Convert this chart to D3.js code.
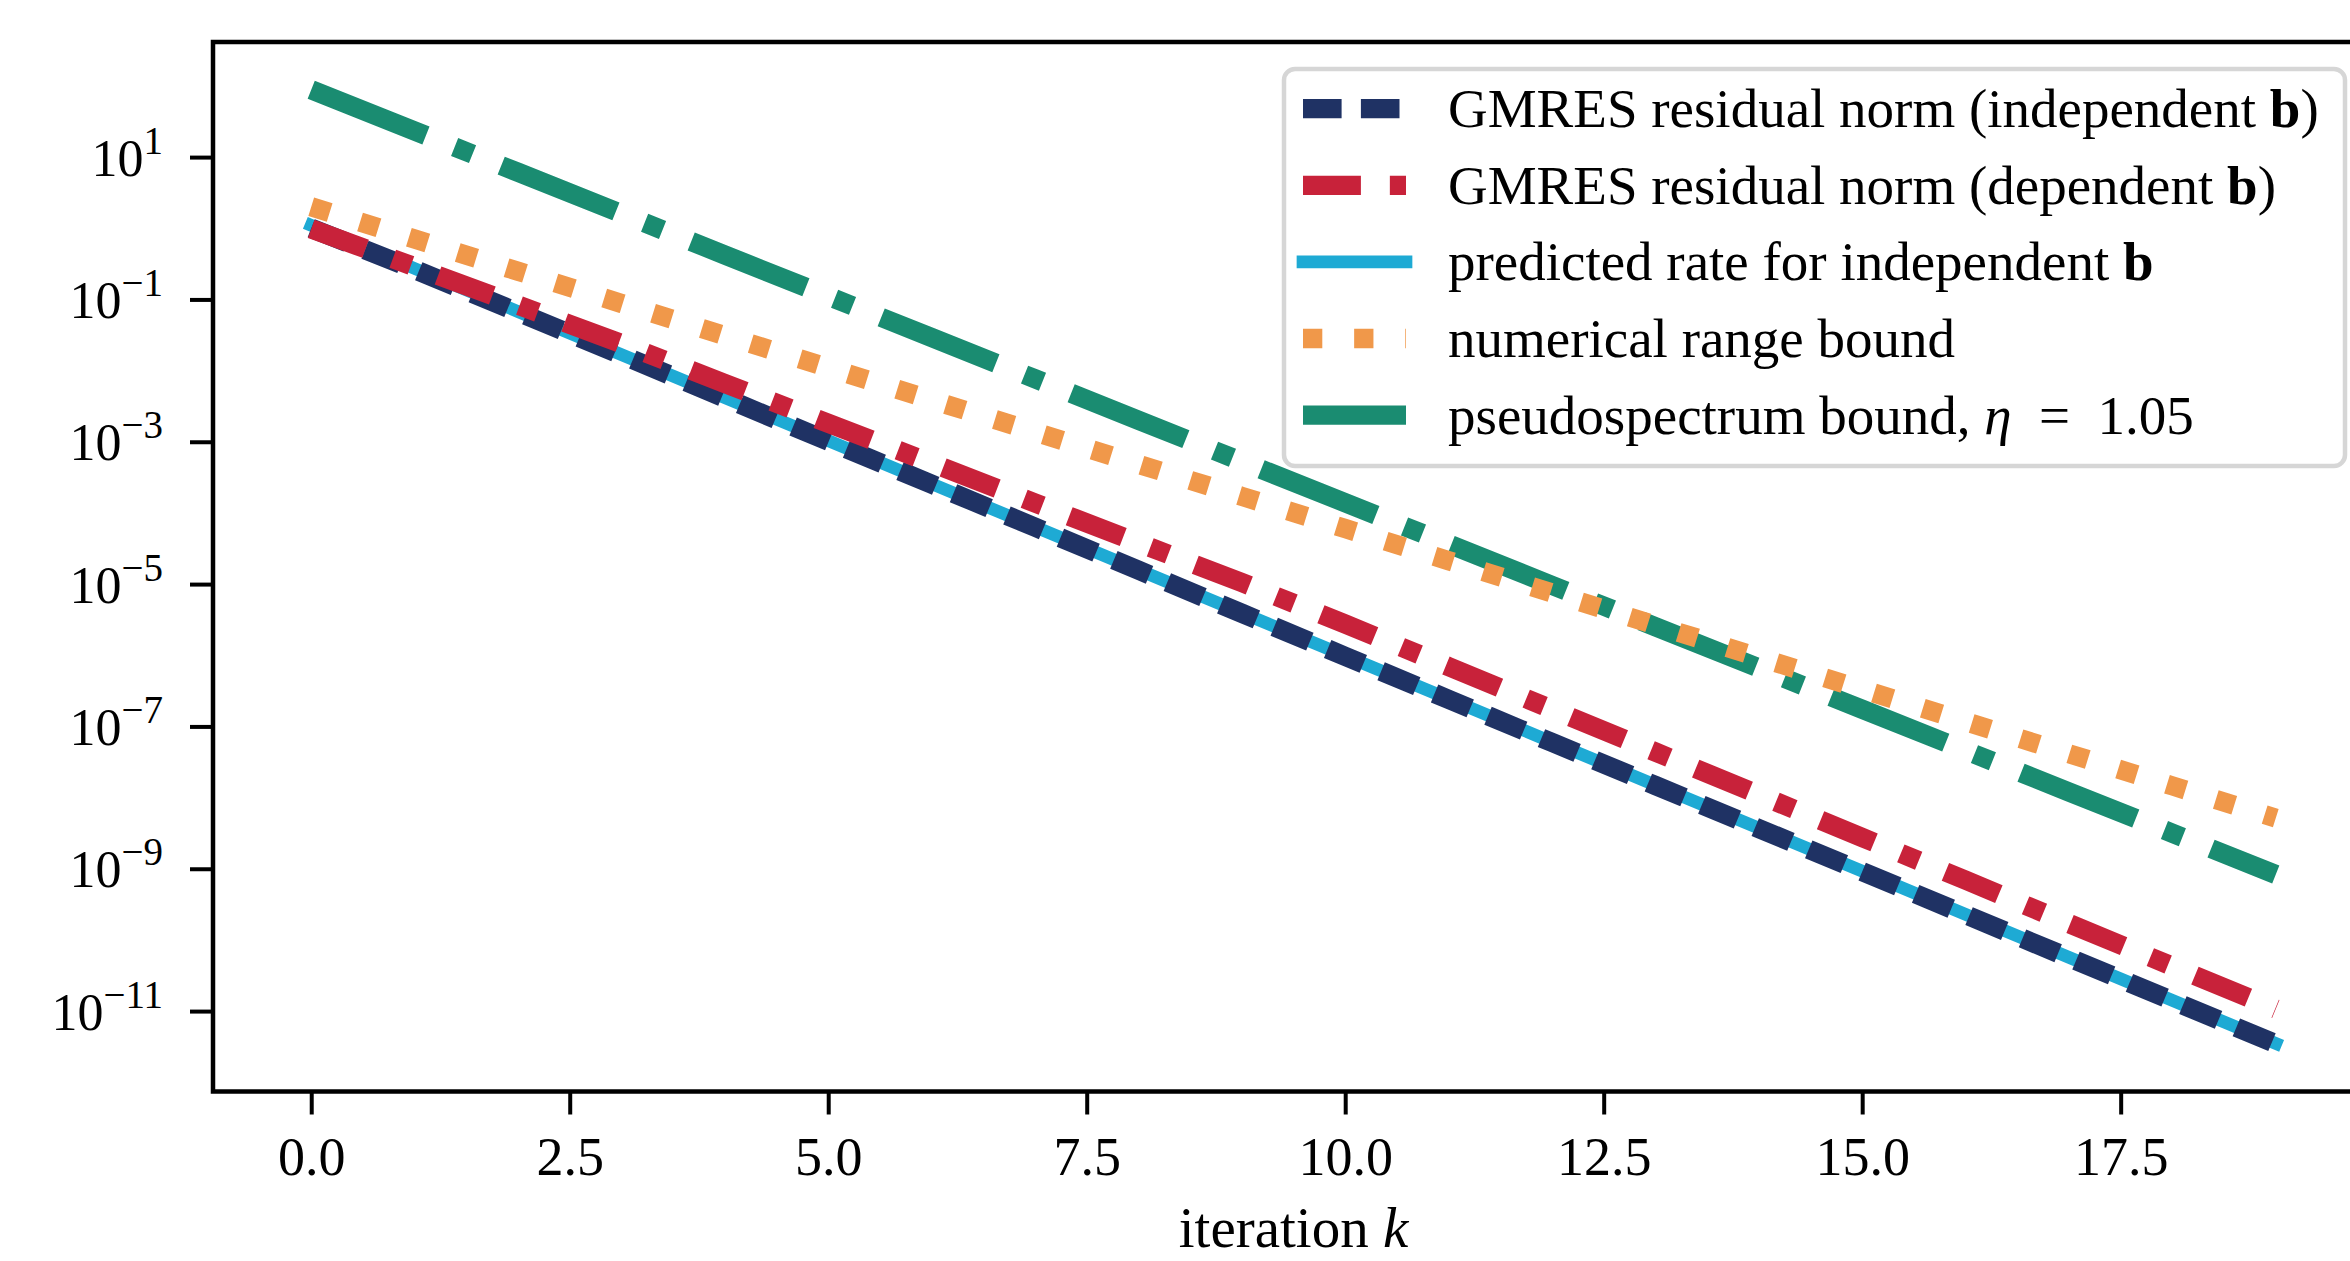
<!DOCTYPE html>
<html>
<head>
<meta charset="utf-8">
<script src="https://cdn.jsdelivr.net/npm/d3@7"></script>
<style>
  body { margin: 0; background: #fff; }
  svg { display: block; font-family: "Liberation Serif", "DejaVu Serif", serif; }
</style>
</head>
<body>
<div id="my_chart"></div>
<script>
// iteration index k
const iterations = [0, 1, 2, 3, 4, 5, 6, 7, 8, 9, 10, 11, 12, 13, 14, 15, 16, 17, 18, 19]

// values (log scale)
const gmresIndependent = [1.0, 2.63e-1, 6.61e-2, 1.66e-2, 4.12e-3, 1.02e-3, 2.54e-4, 6.31e-5, 1.57e-5, 3.89e-6,
    9.66e-7, 2.40e-7, 5.96e-8, 1.48e-8, 3.67e-9, 9.12e-10, 2.26e-10, 5.62e-11, 1.40e-11, 3.47e-12]
const gmresDependent = [0.98, 2.88e-1, 8.32e-2, 2.40e-2, 6.61e-3, 1.82e-3, 5.01e-4, 1.38e-4, 3.80e-5, 1.05e-5,
    2.75e-6, 6.92e-7, 1.74e-7, 4.37e-8, 1.10e-8, 2.75e-9, 6.92e-10, 1.70e-10, 4.27e-11, 1.07e-11]
const predictedRate = [1.10, 2.72e-1, 6.76e-2, 1.68e-2, 4.17e-3, 1.04e-3, 2.57e-4, 6.38e-5, 1.58e-5, 3.94e-6,
    9.77e-7, 2.43e-7, 6.03e-8, 1.50e-8, 3.72e-9, 9.23e-10, 2.29e-10, 5.69e-11, 1.41e-11, 3.51e-12]
const numericalRangeBound = [2.0, 7.05e-1, 2.49e-1, 8.79e-2, 3.10e-2, 1.10e-2, 3.87e-3, 1.37e-3, 4.83e-4, 1.71e-4,
    6.03e-5, 2.13e-5, 7.52e-6, 2.65e-6, 9.38e-7, 3.31e-7, 1.17e-7, 4.13e-8, 1.46e-8, 5.15e-9]
const pseudospectrumBound = [88.5, 23.3, 6.11, 1.61, 4.22e-1, 1.11e-1, 2.92e-2, 7.66e-3, 2.01e-3, 5.28e-4,
    1.39e-4, 3.66e-5, 9.59e-6, 2.52e-6, 6.62e-7, 1.74e-7, 4.58e-8, 1.20e-8, 3.16e-9, 8.32e-10]

const xTicks = [0, 2.5, 5, 7.5, 10, 12.5, 15, 17.5]
const yTicks = [1e1, 1e-1, 1e-3, 1e-5, 1e-7, 1e-9, 1e-11]

const lw = 19.3
const series = [
    {key: 'dep', values: gmresDependent, color: '#c8223a', width: lw, dash: [3, 1.5, 1, 1.5], cap: 'butt', z: 5},
    {key: 'ind', values: gmresIndependent, color: '#1f3264', width: lw, dash: [2, 1], cap: 'butt', z: 4},
    {key: 'pred', values: predictedRate, color: '#1eaad4', width: 12.7, dash: null, cap: 'square', z: 3},
    {key: 'nr', values: numericalRangeBound, color: '#f0984a', width: lw, dash: [1, 1.65], cap: 'butt', z: 2},
    {key: 'ps', values: pseudospectrumBound, color: '#1a8c71', width: lw, dash: [6.4, 1.6, 1, 1.6], cap: 'butt', z: 1}
]
const legendOrder = ['ind', 'dep', 'pred', 'nr', 'ps']

const width = 2350, height = 1261
const box = {left: 213, top: 42, right: 2374, bottom: 1091.5}
const serif = '"Liberation Serif", "DejaVu Serif", serif'

const svg = d3.select('#my_chart')
    .append('svg')
    .attr('width', width)
    .attr('height', height)

// x scale with matplotlib-like 5% margins
const xSpan = d3.max(iterations) - d3.min(iterations)
const x = d3.scaleLinear()
    .domain([d3.min(iterations) - 0.05 * xSpan, d3.max(iterations) + 0.05 * xSpan])
    .range([box.left, box.right])

const allVals = series.flatMap(s => s.values)
const lo = Math.log10(d3.min(allVals)), hi = Math.log10(d3.max(allVals))
const pad = (hi - lo) * 0.05
const y = d3.scaleLog()
    .domain([Math.pow(10, lo - pad), Math.pow(10, hi + pad)])
    .range([box.bottom, box.top])

svg.append('defs').append('clipPath').attr('id', 'plotclip')
    .append('rect')
    .attr('x', box.left).attr('y', box.top)
    .attr('width', box.right - box.left).attr('height', box.bottom - box.top)

const line = d3.line()
    .x((d, i) => x(iterations[i]))
    .y(d => y(d))

// lines, drawn back to front
const plot = svg.append('g').attr('clip-path', 'url(#plotclip)')
plot.selectAll('path')
    .data(series.slice().sort((a, b) => a.z - b.z))
    .join('path')
    .attr('d', d => line(d.values))
    .attr('fill', 'none')
    .attr('stroke', d => d.color)
    .attr('stroke-width', d => d.width)
    .attr('stroke-linecap', d => d.cap)
    .attr('stroke-linejoin', 'round')
    .attr('stroke-dasharray', d => d.dash ? d.dash.map(v => v * d.width).join(' ') : null)

// x axis
const xAxis = svg.append('g')
    .attr('transform', `translate(0,${box.bottom})`)
    .call(d3.axisBottom(x).tickValues(xTicks).tickFormat(d3.format('.1f')).tickSize(23).tickPadding(22))
    .attr('font-family', serif)
    .attr('font-size', 54)
xAxis.select('.domain').remove()
xAxis.selectAll('line').attr('stroke', '#000').attr('stroke-width', 4)
xAxis.selectAll('text').attr('fill', '#000')

// y axis, labels as 10^n
const yAxis = svg.append('g')
    .attr('transform', `translate(${box.left},0)`)
    .call(d3.axisLeft(y).tickValues(yTicks).tickFormat(() => '').tickSize(23))
    .attr('font-family', serif)
    .attr('font-size', 52)
yAxis.select('.domain').remove()
yAxis.selectAll('line').attr('stroke', '#000').attr('stroke-width', 4)
yAxis.selectAll('.tick text').remove()
yAxis.selectAll('.tick').append('text')
    .attr('x', -50)
    .attr('dy', 18)
    .attr('text-anchor', 'end')
    .attr('fill', '#000')
    .each(function (d) {
        const e = Math.round(Math.log10(d))
        const t = d3.select(this)
        t.append('tspan').text('10')
        t.append('tspan').attr('dy', -22).attr('font-size', 39).text(e < 0 ? '\u2212' + (-e) : String(e))
    })

// frame
svg.append('rect')
    .attr('x', box.left).attr('y', box.top)
    .attr('width', box.right - box.left).attr('height', box.bottom - box.top)
    .attr('fill', 'none')
    .attr('stroke', '#000')
    .attr('stroke-width', 4.5)

// x label
const xLabel = svg.append('text')
    .attr('x', (box.left + box.right) / 2)
    .attr('y', 1247)
    .attr('text-anchor', 'middle')
    .attr('font-size', 57)
xLabel.append('tspan').text('iteration ')
xLabel.append('tspan').attr('font-style', 'italic').text('k')

// legend
const legendLabels = {
    ind: [['GMRES residual norm (independent ', 'normal'], ['b', 'bold'], [')', 'normal']],
    dep: [['GMRES residual norm (dependent ', 'normal'], ['b', 'bold'], [')', 'normal']],
    pred: [['predicted rate for independent ', 'normal'], ['b', 'bold']],
    nr: [['numerical range bound', 'normal']],
    ps: [['pseudospectrum bound, ', 'normal'], ['\u03b7', 'italic'], ['\u2002=\u20021.05', 'normal']]
}

const legend = svg.append('g')
legend.append('rect')
    .attr('x', 1284).attr('y', 69)
    .attr('width', 1061).attr('height', 397)
    .attr('rx', 11)
    .attr('fill', '#fff').attr('fill-opacity', 0.8)
    .attr('stroke', '#d6d6d6').attr('stroke-width', 4.5)

const rows = legend.selectAll('g.row')
    .data(legendOrder.map(k => series.find(s => s.key === k)))
    .join('g')
    .attr('class', 'row')
    .attr('transform', (d, i) => `translate(0,${108.7 + i * 76.6})`)

rows.append('line')
    .attr('x1', 1303).attr('x2', 1406)
    .attr('stroke', d => d.color)
    .attr('stroke-width', d => d.width)
    .attr('stroke-linecap', d => d.cap)
    .attr('stroke-dasharray', d => d.dash ? d.dash.map(v => v * d.width).join(' ') : null)

rows.append('text')
    .attr('x', 1448)
    .attr('y', 18.5)
    .attr('font-size', 55)
    .attr('fill', '#000')
    .each(function (d) {
        const t = d3.select(this)
        legendLabels[d.key].forEach(([str, style]) => {
            const sp = t.append('tspan').text(str)
            if (style === 'bold') sp.attr('font-weight', 'bold')
            if (style === 'italic') sp.attr('font-style', 'italic')
        })
    })
</script>
</body>
</html>
